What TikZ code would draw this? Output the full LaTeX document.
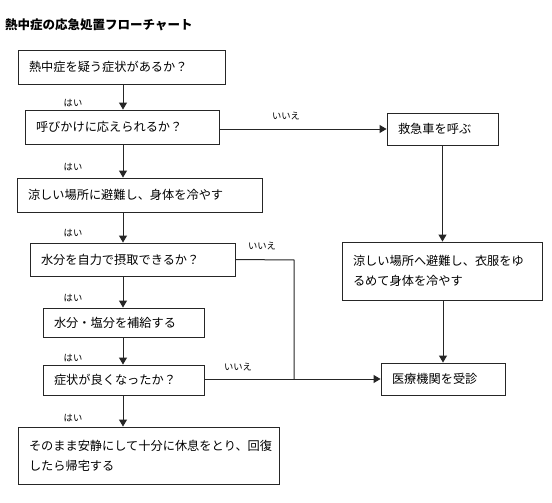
\documentclass[tikz,border=0pt]{standalone}
\usepackage{fontspec}
\setmainfont{Noto Sans CJK JP}
\usetikzlibrary{arrows.meta}
\tikzset{
  box/.style={draw=black!85, line width=0.9pt, rectangle, anchor=center, inner xsep=10pt, inner ysep=0pt,
    font=\fontsize{12.2}{20}\selectfont, align=left},
  arr/.style={draw=black!85, line width=1pt, -{Triangle[length=7pt,width=8pt]}},
  ln/.style={draw=black!85, line width=1pt},
  yes/.style={font=\fontsize{9.3}{10}\selectfont, inner sep=0pt},
}
\begin{document}
\begin{tikzpicture}[x=1pt,y=-1pt]
\useasboundingbox (0,0) rectangle (552,503);
\node[anchor=west, inner sep=0pt, font=\fontsize{12.5}{14}\selectfont\bfseries] (title) at (5,25) {熱中症の応急処置フローチャート};

\node[box, minimum width=207, minimum height=34, text width=185] (b1) at (121.5,67) {熱中症を疑う症状があるか？};
\node[box, minimum width=194, minimum height=34, text width=172] (b2) at (122,127) {呼びかけに応えられるか？};
\node[box, minimum width=245, minimum height=34, text width=223] (b3) at (139.5,195) {涼しい場所に避難し、身体を冷やす};
\node[box, minimum width=205, minimum height=33, text width=183] (b4) at (132.5,259.5) {水分を自力で摂取できるか？};
\node[box, minimum width=161, minimum height=29, text width=139] (b5) at (123.5,322.5) {水分・塩分を補給する};
\node[box, minimum width=161, minimum height=30, text width=139] (b6) at (123.5,380) {症状が良くなったか？};
\node[box, minimum width=261, minimum height=57, text width=239] (b7) at (148.5,455.5) {そのまま安静にして十分に休息をとり、回復\\したら帰宅する};

\node[box, minimum width=111, minimum height=32, text width=89] (r1) at (442.5,129) {救急車を呼ぶ};
\node[box, minimum width=200, minimum height=58, text width=178] (r2) at (442,271) {涼しい場所へ避難し、衣服をゆ\\るめて身体を冷やす};
\node[box, minimum width=124, minimum height=32, text width=102] (r3) at (443,379) {医療機関を受診};

\coordinate (ax) at (123,0);
\coordinate (j) at (294,260);

\draw[arr] (b1.south -| ax) -- (b2.north -| ax);
\draw[arr] (b2.south -| ax) -- (b3.north -| ax);
\draw[arr] (b3.south -| ax) -- (b4.north -| ax);
\draw[arr] (b4.south -| ax) -- (b5.north -| ax);
\draw[arr] (b5.south -| ax) -- (b6.north -| ax);
\draw[arr] (b6.south -| ax) -- (b7.north -| ax);

\draw[arr] (b2.east |- r1.west) -- (r1.west);
\draw[arr] (r1.south) -- (r1.south |- r2.north);
\draw[arr] (r2.south -| r3.north) -- (r3.north);
\draw[ln] (b4.east) -- (j) -- (j |- r3.west);
\draw[arr] (b6.east |- r3.west) -- (r3.west);

\node[yes] (y1) at (73,103) {はい};
\node[yes] (y2) at (73,167) {はい};
\node[yes] (y3) at (73,233) {はい};
\node[yes] (y4) at (73,298) {はい};
\node[yes] (y5) at (73,358) {はい};
\node[yes] (y6) at (73,418) {はい};
\node[yes] (n1) at (286,116) {いいえ};
\node[yes] (n2) at (262,246) {いいえ};
\node[yes] (n3) at (238,367) {いいえ};
\end{tikzpicture}
\end{document}
